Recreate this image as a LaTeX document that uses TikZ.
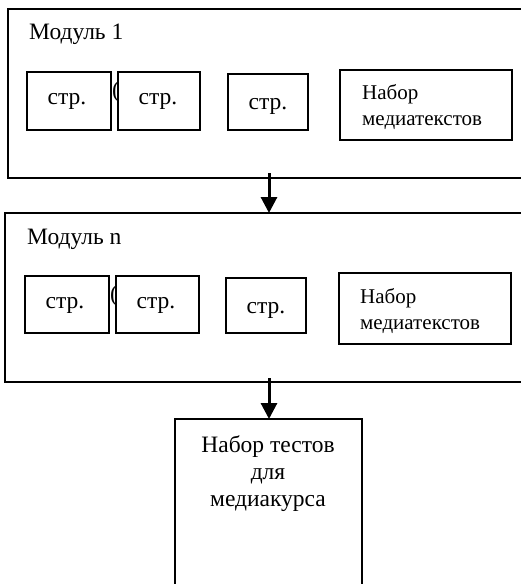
\documentclass[tikz,border=0pt]{standalone}
\usepackage{fontspec}
\setmainfont{Liberation Serif}
\usetikzlibrary{arrows.meta}
\begin{document}
\begin{tikzpicture}[x=1pt,y=-1pt,
  frame/.style={draw=black,line width=1.8pt},
  pagebox/.style={frame,fill=white},
  lbl/.style={font=\fontsize{23.5}{28}\selectfont,inner sep=0pt,anchor=west},
  small/.style={lbl,font=\fontsize{21}{25}\selectfont},
  conn/.style={line width=3pt,-{Triangle[width=16pt,length=16pt]}}]
\useasboundingbox (0,0) rectangle (521,584);
\clip (0,0) rectangle (521,584);
\fill[white] (0,0) rectangle (521,584);
% Module 1
\draw[frame] (8,9) rectangle (540,178);
\node[lbl] (m1t) at (29,34) {Модуль 1};
\node[lbl] (p1a) at (112,92) {(};
\draw[pagebox] (27,72) rectangle (111,130);
\node[lbl,anchor=center] (s1a) at (67,101) {стр.};
\draw[pagebox] (118,72) rectangle (200,130);
\node[lbl,anchor=center] (s1b) at (158,101) {стр.};
\draw[pagebox] (228,74) rectangle (308,130);
\node[lbl,anchor=center] (s1c) at (268,106) {стр.};
\draw[pagebox] (340,70) rectangle (512,140);
\node[small] (n1a) at (362,94) {Набор};
\node[small] (n1b) at (362,123) {медиатекстов};
\coordinate (m1b) at (269,173);
% Module n
\draw[frame] (5,213) rectangle (540,382);
\coordinate (mnt) at (269,213);
\node[lbl] (mnt2) at (27,239) {Модуль n};
\node[lbl] (pna) at (110,296) {(};
\draw[pagebox] (25,276) rectangle (109,333);
\node[lbl,anchor=center] (sna) at (65,305) {стр.};
\draw[pagebox] (116,276) rectangle (199,333);
\node[lbl,anchor=center] (snb) at (156,305) {стр.};
\draw[pagebox] (226,278) rectangle (306,333);
\node[lbl,anchor=center] (snc) at (266,310) {стр.};
\draw[pagebox] (339,273) rectangle (511,344);
\node[small] (nna) at (360,298) {Набор};
\node[small] (nnb) at (360,327) {медиатекстов};
\coordinate (mnb) at (269,378);
% Tests box
\draw[frame] (175,419) rectangle (362,600);
\coordinate (tt) at (269,419);
\node[font=\fontsize{23.5}{27}\selectfont,align=center,anchor=north,inner sep=0pt] (tests) at (268,435) {Набор тестов\\для\\медиакурса};
% connectors
\draw[conn] (m1b) -- (mnt);
\draw[conn] (mnb) -- (tt);
\end{tikzpicture}
\end{document}
